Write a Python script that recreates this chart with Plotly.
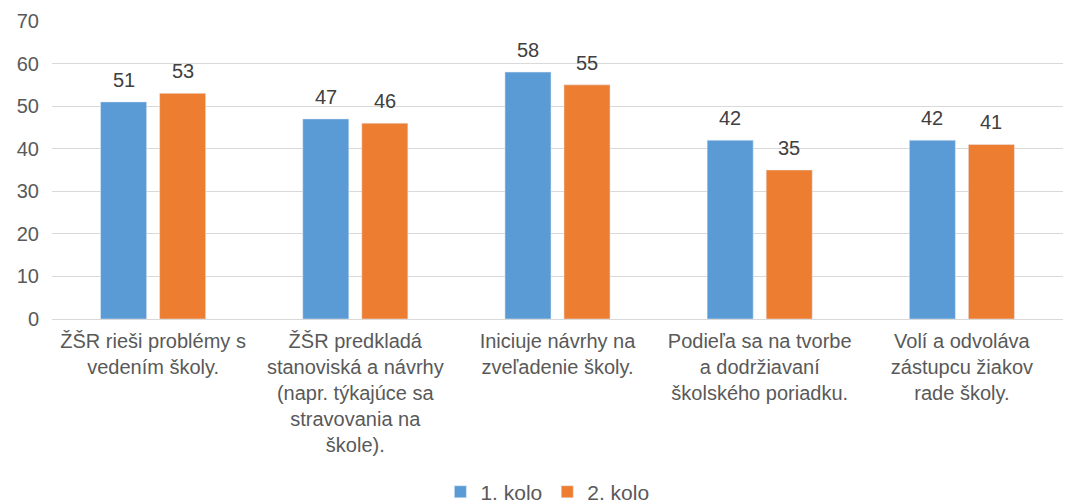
import plotly.graph_objects as go

categories = [
    "ŽŠR rieši problémy s<br>vedením školy.",
    "ŽŠR predkladá<br>stanoviská a návrhy<br>(napr. týkajúce sa<br>stravovania na<br>škole).",
    "Iniciuje návrhy na<br>zveľadenie školy.",
    "Podieľa sa na tvorbe<br>a dodržiavaní<br>školského poriadku.",
    "Volí a odvoláva<br>zástupcu žiakov<br>rade školy.",
]
kolo1 = [51, 47, 58, 42, 42]
kolo2 = [53, 46, 55, 35, 41]
series_names = ["1. kolo", "2. kolo"]
colors = ["#5B9BD5", "#ED7D31"]

font_family = "Liberation Sans, Arial, sans-serif"
text_color = "#595959"
BARGAP = 0.416
BARGROUPGAP = 0.22

xpos = list(range(len(categories)))

fig = go.Figure()
for name, vals, col in zip(series_names, [kolo1, kolo2], colors):
    fig.add_trace(go.Bar(x=xpos, y=vals, name=name, marker_color=col))

# data labels above bars
slot = (1 - BARGAP) / 2
for k, vals in enumerate([kolo1, kolo2]):
    off = (k - 0.5) * slot
    for i, v in enumerate(vals):
        fig.add_annotation(x=i + off, y=v, text=str(v), showarrow=False,
                           yanchor="bottom", yshift=9,
                           font=dict(size=20, color="#404040", family=font_family))

# page body has an 8px margin: figure is sized/offset to compensate
fig.update_layout(
    width=1065, height=495,
    margin=dict(l=44, r=10, t=13, b=184),
    paper_bgcolor="white", plot_bgcolor="white",
    barmode="group", bargap=BARGAP, bargroupgap=BARGROUPGAP,
    font=dict(family=font_family, size=20, color=text_color),
    legend=dict(orientation="h", x=0.49, xanchor="center", xref="paper",
                y=0.022, yanchor="middle", yref="container",
                font=dict(size=21, color=text_color), itemwidth=30,
                traceorder="normal"),
    xaxis=dict(tickmode="array", tickvals=xpos, ticktext=categories,
               range=[-0.5, len(categories) - 0.5],
               tickfont=dict(size=20, color=text_color), showline=True,
               linecolor="#d9d9d9", linewidth=1, ticks="", automargin=False,
               ticklabelstandoff=4),
    yaxis=dict(range=[0, 70], dtick=10, showgrid=True, gridcolor="#d9d9d9",
               gridwidth=1, zeroline=False, tickfont=dict(size=20, color=text_color),
               ticks="", ticklabelstandoff=12, automargin=False),
)

fig.write_html("out.html")
